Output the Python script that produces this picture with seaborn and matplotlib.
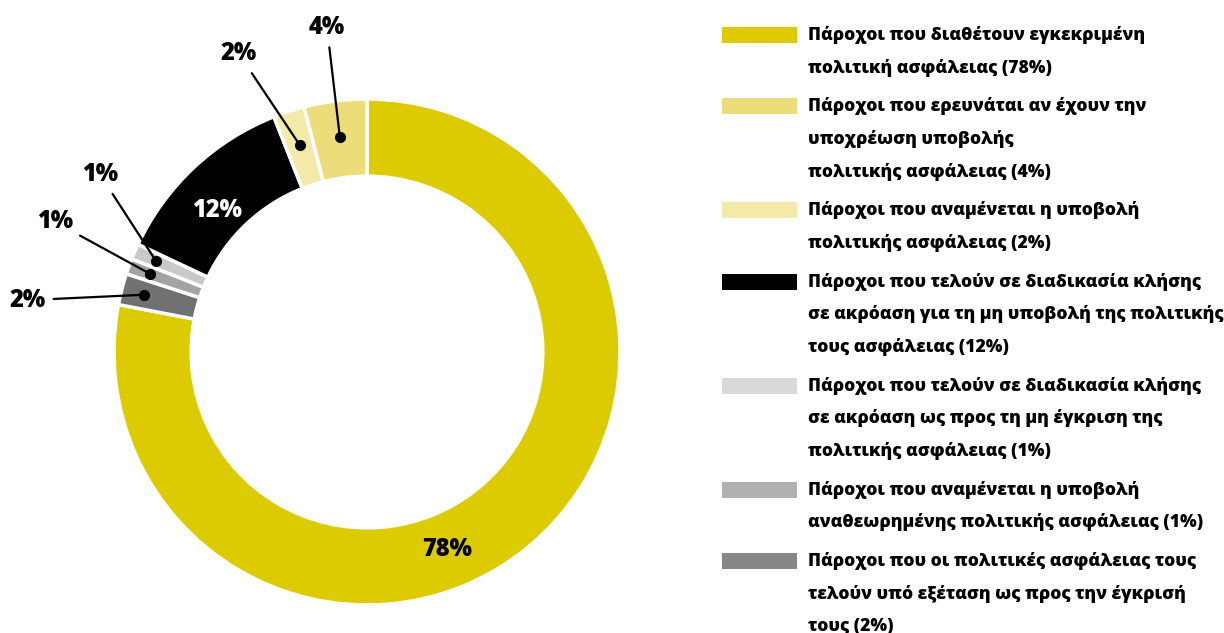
import matplotlib
matplotlib.use("Agg")
import matplotlib.pyplot as plt
from matplotlib.patches import Rectangle
import numpy as np
import seaborn as sns

sns.set_theme(style="white")
plt.rcParams['font.family'] = ['Open Sans', 'DejaVu Sans']
plt.rcParams['text.color'] = 'black'

# ring order, clockwise from 12 o'clock
shares = [78, 2, 1, 1, 12, 2, 4]
share_labels = ["78%", "2%", "1%", "1%", "12%", "2%", "4%"]
ring_colors = ["#dccb00", "#707173", "#a2a3a5", "#c8c9cb", "#000000", "#f3e9a8", "#ecdd7a"]

# legend order (index into the ring lists)
legend_order = [0, 6, 5, 4, 3, 2, 1]
legend_colors = ["#dccb00", "#ecdd7a", "#f3e9a8", "#000000", "#d9d9da", "#b1b1b1", "#878787"]
legend_labels = [
    "Πάροχοι που διαθέτουν εγκεκριμένη\nπολιτική ασφάλειας (78%)",
    "Πάροχοι που ερευνάται αν έχουν την\nυποχρέωση υποβολής\nπολιτικής ασφάλειας (4%)",
    "Πάροχοι που αναμένεται η υποβολή\nπολιτικής ασφάλειας (2%)",
    "Πάροχοι που τελούν σε διαδικασία κλήσης\nσε ακρόαση για τη μη υποβολή της πολιτικής\nτους ασφάλειας (12%)",
    "Πάροχοι που τελούν σε διαδικασία κλήσης\nσε ακρόαση ως προς τη μη έγκριση της\nπολιτικής ασφάλειας (1%)",
    "Πάροχοι που αναμένεται η υποβολή\nαναθεωρημένης πολιτικής ασφάλειας (1%)",
    "Πάροχοι που οι πολιτικές ασφάλειας τους\nτελούν υπό εξέταση ως προς την έγκρισή\nτους (2%)",
]

W, H = 1224, 633
fig = plt.figure(figsize=(W / 100, H / 100), dpi=100)
fig.patch.set_facecolor("white")

cx, cy, R = 367, 352, 253
ax = fig.add_axes([(cx - R) / W, (H - cy - R) / H, 2 * R / W, 2 * R / H])
wedges, _ = ax.pie(shares, colors=ring_colors, startangle=90, counterclock=False,
                   radius=1, wedgeprops=dict(width=0.305, edgecolor="white", linewidth=2.5))
ax.set_xlim(-1, 1)
ax.set_ylim(-1, 1)
ax.axis("off")

# labels drawn inside the ring
inner = {0: ((0.316, -0.779), "black"), 4: ((-0.593, 0.561), "white")}
for i, ((x, y), c) in inner.items():
    ax.text(x, y, share_labels[i], ha="center", va="center", color=c,
            fontsize=17, fontweight=800)

# labels outside with leader lines: text position, dot radius
outer = {
    6: ((-0.158, 1.283), 0.855),
    5: ((-0.506, 1.178), 0.86),
    3: ((-1.055, 0.701), 0.91),
    2: ((-1.233, 0.514), 0.91),
    1: ((-1.340, 0.205), 0.91),
}
for i, ((tx, ty), r) in outer.items():
    w = wedges[i]
    ang = np.deg2rad((w.theta1 + w.theta2) / 2)
    px, py = r * np.cos(ang), r * np.sin(ang)
    ax.plot(px, py, "o", color="black", markersize=7, clip_on=False)
    ax.annotate(share_labels[i], xy=(px, py), xytext=(tx, ty), ha="center", va="center",
                fontsize=17, fontweight=800, color="black", annotation_clip=False,
                arrowprops=dict(arrowstyle="-", color="black", lw=1.6, shrinkA=3, shrinkB=0))

# legend drawn as swatches and lines of text
L, G = 32.6, 6.2
base = 40
for k, i in enumerate(legend_order):
    fig.add_artist(Rectangle((722 / W, 1 - (base + 3) / H), 75 / W, 16 / H,
                             transform=fig.transFigure, color=legend_colors[k], lw=0))
    lines = legend_labels[k].split("\n")
    for j, line in enumerate(lines):
        fig.text(808 / W, 1 - (base + j * L) / H, line, ha="left", va="baseline",
                 fontsize=12.6, fontweight=800, color="black")
    base += len(lines) * L + G

fig.savefig("out.png", dpi=100, facecolor="white")
